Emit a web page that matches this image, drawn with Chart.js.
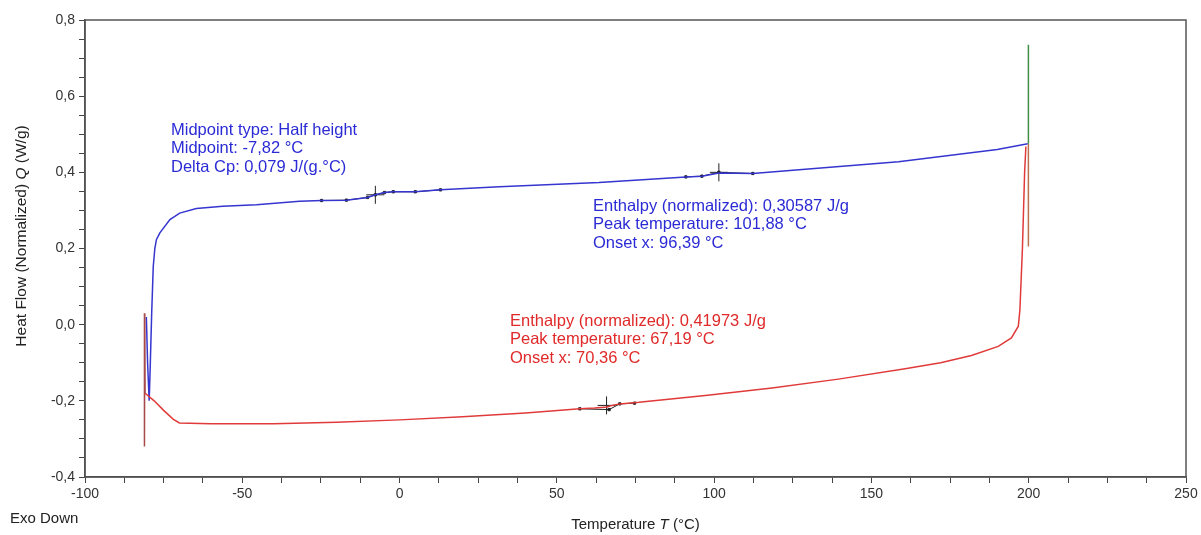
<!DOCTYPE html>
<html lang="en">
<head>
	<meta charset="UTF-8">
	<title>DSC Heat Flow</title>
	<script src="https://cdn.jsdelivr.net/npm/chart.js"></script>
	<style>
		body { margin: 0; background: #fff; }
		#grafico { display: block; }
	</style>
</head>
<body>
	<canvas id="grafico" width="1201" height="535"></canvas>
	<script>
		// heating curve (blue)
		var blueT = [-80.5, -80.1, -79.6, -79.3, -78.8, -78.3, -77.8, -77.3, -76.2, -73.0, -69.9, -64.6, -56.2, -45.5, -31.8, -24.8, -16.9, -10.2, -7.7, -4.8, -2.0, 5.0, 13.0, 31.7, 63.4, 91.0, 96.1, 101.5, 112.3, 127.0, 158.6, 190.0, 199.7];
		var blueQ = [0.02, -0.10, -0.20, -0.12, 0.03, 0.153, 0.20, 0.223, 0.241, 0.276, 0.293, 0.305, 0.311, 0.315, 0.324, 0.326, 0.327, 0.334, 0.341, 0.347, 0.349, 0.349, 0.354, 0.362, 0.373, 0.388, 0.390, 0.398, 0.397, 0.407, 0.428, 0.460, 0.475];

		// cooling curve (red)
		var redT = [-80.9, -78.0, -75.0, -72.0, -70.0, -60.0, -40.0, -20.0, 0.0, 20.0, 40.0, 57.3, 62.0, 66.0, 67.5, 70.0, 76.1, 97.2, 118.4, 139.5, 160.7, 172.0, 181.8, 190.3, 194.5, 196.7, 197.2, 198.0, 198.7, 199.1];
		var redQ = [-0.18, -0.20, -0.225, -0.248, -0.258, -0.26, -0.26, -0.256, -0.25, -0.242, -0.232, -0.221, -0.219, -0.216, -0.212, -0.208, -0.204, -0.186, -0.166, -0.143, -0.116, -0.100, -0.081, -0.057, -0.035, -0.004, 0.039, 0.20, 0.40, 0.468];

		// start spike at -81 °C
		var spikeT = [-80.9, -81.0, -81.1];
		var spikeQ = [-0.18, 0.03, -0.32];

		// end of run at 200 °C
		var greenT = [199.9, 199.9];
		var greenQ = [0.475, 0.735];
		var brownT = [199.9, 199.9];
		var brownQ = [0.475, 0.205];

		// analysis markers
		var mark1T = [-24.8, -16.9, -10.2, -7.7, -4.8, -2.0, 5.0, 13.0];
		var mark1Q = [0.326, 0.327, 0.334, 0.341, 0.347, 0.349, 0.349, 0.354];
		var mark2T = [91.0, 96.1, 101.5, 112.3];
		var mark2Q = [0.388, 0.390, 0.400, 0.397];
		var mark3T = [57.3, 66.6, 70.0, 74.7];
		var mark3Q = [-0.221, -0.223, -0.208, -0.206];
		var crossT = [-7.7, 101.5, 65.8];
		var crossQ = [0.341, 0.400, -0.212];

		var xMajor = [-100, -50, 0, 50, 100, 150, 200, 250];
		var yMajor = [-0.4, -0.2, 0.0, 0.2, 0.4, 0.6, 0.8];

		var notaAzul1 = ['Midpoint type: Half height', 'Midpoint: -7,82 °C', 'Delta Cp: 0,079 J/(g.°C)'];
		var notaAzul2 = ['Enthalpy (normalized): 0,30587 J/g', 'Peak temperature: 101,88 °C', 'Onset x: 96,39 °C'];
		var notaVermelha = ['Enthalpy (normalized): 0,41973 J/g', 'Peak temperature: 67,19 °C', 'Onset x: 70,36 °C'];

		function pontos(t, q) {
			return t.map(function (v, i) { return { x: v, y: q[i] }; });
		}

		function linha(t, q, cor, largura) {
			return {
				data: pontos(t, q),
				borderColor: cor,
				borderWidth: largura,
				pointRadius: 0,
				fill: false,
				tension: 0
			};
		}

		function marcas(t, q) {
			return {
				data: pontos(t, q),
				borderColor: '#222',
				backgroundColor: '#111',
				borderWidth: 1,
				pointStyle: 'rect',
				pointRadius: 1.6,
				fill: false
			};
		}

		var FONTE = '"Liberation Sans", Arial, sans-serif';

		function textoMisto(ctx, partes, cx, cy, tam) {
			var total = 0;
			partes.forEach(function (p) {
				ctx.font = (p[1] ? 'italic ' : '') + tam + 'px ' + FONTE;
				total += ctx.measureText(p[0]).width;
			});
			var x = cx - total / 2;
			partes.forEach(function (p) {
				ctx.font = (p[1] ? 'italic ' : '') + tam + 'px ' + FONTE;
				ctx.fillText(p[0], x, cy);
				x += ctx.measureText(p[0]).width;
			});
		}

		var extras = {
			id: 'extras',
			afterDraw: function (chart) {
				var ctx = chart.ctx;
				var a = chart.chartArea;
				ctx.save();
				ctx.strokeStyle = '#555';
				ctx.lineWidth = 1.5;
				ctx.strokeRect(a.left, a.top, a.right - a.left, a.bottom - a.top);

				ctx.textBaseline = 'middle';
				ctx.textAlign = 'left';
				ctx.font = '16.5px ' + FONTE;
				ctx.fillStyle = '#2b2bd6';
				notaAzul1.forEach(function (s, i) { ctx.fillText(s, 171, 130 + i * 18.5); });
				notaAzul2.forEach(function (s, i) { ctx.fillText(s, 593, 206 + i * 18.5); });
				ctx.fillStyle = '#e02a2a';
				notaVermelha.forEach(function (s, i) { ctx.fillText(s, 510, 321 + i * 18.5); });

				ctx.fillStyle = '#222';
				ctx.font = '15px ' + FONTE;
				ctx.fillText('Exo Down', 10, 519);

				textoMisto(ctx, [['Temperature ', false], ['T', true], [' (°C)', false]], (a.left + a.right) / 2, 525, 15);

				ctx.translate(22, 236);
				ctx.rotate(-Math.PI / 2);
				textoMisto(ctx, [['Heat Flow (Normalized) ', false], ['Q', true], [' (W/g)', false]], 0, 0, 15.5);
				ctx.restore();
			}
		};

		function ehMajor(v, lista) {
			return lista.some(function (m) { return Math.abs(m - v) < 1e-6; });
		}

		var ctx = document.getElementById('grafico').getContext('2d');
		var grafico = new Chart(ctx, {
			type: 'line',
			data: {
				datasets: [
					linha(redT, redQ, '#e03a3a', 1.5),
					linha(spikeT, spikeQ, '#a84a4a', 1.5),
					linha(brownT, brownQ, '#b8704e', 1.5),
					linha(blueT, blueQ, '#3535d0', 1.5),
					linha(greenT, greenQ, '#3f8f45', 1.5),
					marcas(mark1T, mark1Q),
					marcas(mark2T, mark2Q),
					marcas(mark3T, mark3Q),
					{
						data: pontos(crossT, crossQ),
						showLine: false,
						pointStyle: 'cross',
						pointRadius: 9,
						borderColor: '#222',
						borderWidth: 1
					}
				]
			},
			options: {
				responsive: false,
				animation: false,
				layout: { padding: { top: 20, right: 15, left: 0, bottom: 0 } },
				plugins: {
					legend: { display: false },
					tooltip: { enabled: false }
				},
				scales: {
					x: {
						type: 'linear',
						min: -100,
						max: 250,
						afterFit: function (s) { s.height = 58; },
						ticks: {
							stepSize: 12.5,
							autoSkip: false,
							maxRotation: 0,
							color: '#333',
							padding: 3,
							font: { family: FONTE, size: 14 },
							callback: function (v) { return ehMajor(v, xMajor) ? String(v) : ''; }
						},
						grid: { drawOnChartArea: false, tickLength: 6, color: '#444' },
						border: { color: '#444', width: 1.5 }
					},
					y: {
						min: -0.4,
						max: 0.8,
						afterFit: function (s) { s.width = 85; },
						ticks: {
							stepSize: 0.05,
							autoSkip: false,
							color: '#333',
							padding: 4,
							font: { family: FONTE, size: 14 },
							callback: function (v) { return ehMajor(v, yMajor) ? v.toFixed(1).replace('.', ',') : ''; }
						},
						grid: { drawOnChartArea: false, tickLength: 6, color: '#444' },
						border: { color: '#444', width: 1.5 }
					}
				}
			},
			plugins: [extras]
		});
	</script>
</body>
</html>
